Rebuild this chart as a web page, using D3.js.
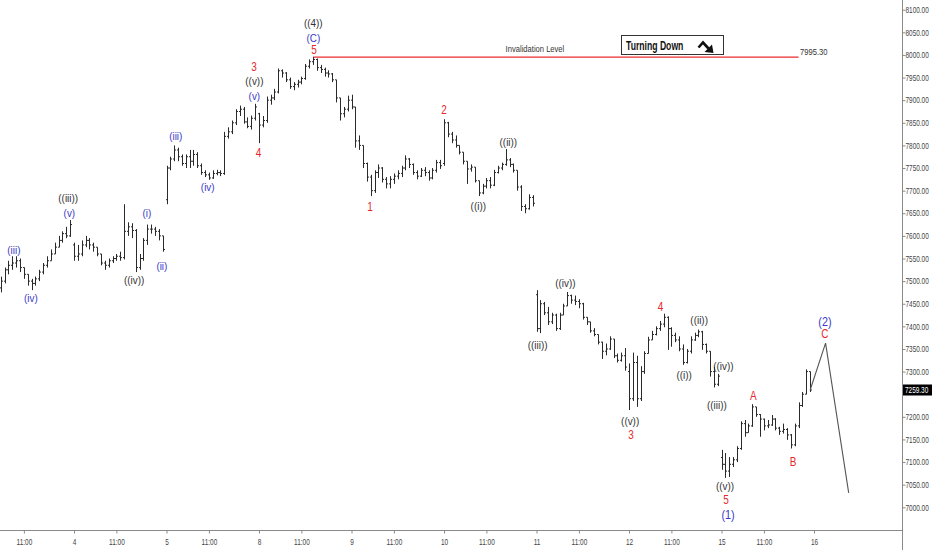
<!DOCTYPE html>
<html><head><meta charset="utf-8">
<script src="https://cdn.jsdelivr.net/npm/d3@7"></script>
<style>html,body{margin:0;padding:0;background:#fff;} svg{display:block;font-family:"Liberation Sans",Arial,sans-serif;}</style>
</head><body><svg id="c" width="932" height="550"></svg>
<script>
// ---------- DATA ----------
const tradingDays = ["3","4","5","8","9","10","11","12","15","16"];
const sessionStartHour = [5,0,0,0,0,0,0,0,0];   // first hourly bar of each drawn day
const barsPerDay = [19,24,24,24,24,24,24,24,24];
const timeTicks = ["11:00"];
const opens = [
 7485,7500,7525,7535,7540,7545,7530,7515,7500,7495,7505,7520,7535,7545,7560,7575,7590,7605,7600,
 7580,7555,7560,7580,7590,7580,7575,7560,7540,7535,7545,7550,7555,7552,7610,7620,7612,7530,7550,7590,7615,7615,7610,7600,
 7680,7750,7770,7790,7775,7760,7775,7765,7780,7755,7740,7735,7728,7738,7740,7738,7820,7830,7850,7875,7880,7852,7842,7860,
 7870,7845,7855,7900,7905,7918,7965,7960,7945,7930,7935,7940,7948,7975,7985,7990,7972,7968,7960,7958,7945,7905,7870,7880,
 7900,7885,7810,7800,7760,7730,7700,7740,7750,7725,7715,7725,7732,7738,7750,7770,7758,7740,7732,7745,7740,7728,7745,7762,
 7760,7850,7825,7812,7800,7785,7765,7748,7752,7722,7695,7710,7722,7712,7740,7750,7758,7768,7758,7745,7708,7665,7660,7685,
 7470,7395,7450,7430,7410,7425,7395,7425,7445,7468,7458,7455,7450,7420,7410,7390,7382,7365,7345,7350,7372,7335,7325,7335,
 7300,7240,7320,7240,7300,7340,7370,7382,7395,7405,7420,7395,7380,7370,7350,7320,7345,7370,7380,7388,7360,7345,7300,7272,
 7110,7095,7080,7095,7105,7130,7185,7165,7180,7222,7205,7195,7180,7182,7195,7175,7168,7172,7160,7138,7180,7225,7250,7300
];
const highs = [
 7510,7530,7545,7555,7555,7550,7530,7515,7505,7510,7525,7540,7555,7570,7585,7600,7610,7620,7635,
 7585,7580,7590,7600,7595,7585,7575,7560,7545,7550,7555,7560,7565,7670,7630,7628,7615,7560,7595,7625,7625,7620,7615,7600,
 7755,7775,7800,7795,7780,7780,7790,7790,7785,7760,7745,7740,7745,7746,7745,7830,7840,7855,7880,7888,7885,7862,7866,7892,
 7872,7865,7908,7912,7925,7970,7968,7962,7950,7940,7945,7952,7980,7990,7995.3,7992,7978,7972,7966,7960,7945,7905,7885,7910,
 7912,7885,7822,7800,7762,7735,7745,7758,7752,7730,7732,7738,7745,7755,7778,7772,7760,7745,7750,7752,7745,7750,7768,7768,
 7858,7852,7830,7822,7800,7785,7765,7758,7752,7722,7715,7728,7730,7746,7755,7762,7792,7772,7760,7745,7712,7670,7692,7690,
 7480,7458,7454,7443,7430,7428,7430,7450,7476,7470,7468,7460,7452,7420,7410,7396,7382,7366,7362,7378,7372,7340,7342,7352,
 7318,7342,7335,7312,7345,7377,7390,7400,7412,7428,7422,7398,7386,7378,7360,7350,7378,7386,7393,7390,7362,7345,7311,7295,
 7127,7120,7111,7111,7135,7190,7193,7185,7228,7222,7206,7196,7193,7204,7197,7178,7185,7175,7162,7185,7232,7255,7305,7300
];
const lows = [
 7475,7495,7515,7525,7530,7520,7505,7490,7480,7490,7500,7515,7530,7545,7560,7575,7585,7595,7598,
 7545,7545,7555,7575,7570,7565,7555,7535,7525,7530,7540,7545,7545,7548,7600,7595,7520,7525,7545,7580,7605,7600,7590,7565,
 7670,7745,7765,7765,7755,7750,7750,7755,7750,7735,7730,7724,7726,7734,7732,7735,7815,7825,7845,7865,7848,7838,7835,7855,
 7805,7840,7850,7890,7900,7915,7950,7940,7925,7922,7928,7935,7945,7970,7978,7965,7960,7952,7950,7940,7895,7855,7862,7875,
 7880,7795,7790,7750,7720,7688,7695,7728,7718,7705,7705,7715,7725,7730,7745,7750,7735,7725,7730,7732,7722,7725,7740,7748,
 7755,7818,7805,7795,7780,7758,7715,7742,7718,7688,7692,7705,7705,7710,7738,7745,7755,7752,7740,7700,7655,7650,7658,7665,
 7388,7385,7425,7403,7405,7390,7392,7425,7445,7450,7447,7440,7415,7403,7386,7378,7360,7328,7336,7348,7330,7320,7322,7302,
 7215,7235,7222,7235,7295,7340,7370,7380,7390,7398,7348,7355,7365,7345,7315,7318,7340,7368,7376,7348,7340,7289,7265,7268,
 7083,7065,7067,7089,7100,7127,7156,7165,7178,7200,7156,7170,7175,7180,7170,7160,7163,7149,7130,7135,7175,7222,7250,7255
];
const closes = [
 7500,7525,7535,7540,7545,7530,7515,7500,7495,7505,7520,7535,7545,7560,7575,7590,7605,7600,7625,
 7555,7560,7580,7590,7580,7575,7560,7540,7535,7545,7550,7555,7552,7610,7620,7612,7530,7550,7590,7615,7615,7610,7600,7570,
 7750,7770,7790,7775,7760,7775,7765,7780,7755,7740,7735,7728,7738,7740,7738,7820,7830,7850,7875,7880,7852,7842,7860,7885,
 7845,7855,7900,7905,7918,7965,7960,7945,7930,7935,7940,7948,7975,7985,7990,7972,7968,7960,7958,7945,7905,7870,7880,7900,
 7885,7810,7800,7760,7730,7700,7740,7750,7725,7715,7725,7732,7738,7750,7770,7758,7740,7732,7745,7740,7728,7745,7762,7755,
 7850,7825,7812,7800,7785,7765,7748,7752,7722,7695,7710,7722,7712,7740,7750,7758,7768,7758,7745,7708,7665,7660,7685,7672,
 7395,7450,7430,7410,7425,7395,7425,7445,7468,7458,7455,7450,7420,7410,7390,7382,7365,7345,7350,7372,7335,7325,7335,7310,
 7240,7320,7240,7300,7340,7370,7382,7395,7405,7420,7395,7380,7370,7350,7320,7345,7370,7380,7388,7360,7345,7300,7272,7290,
 7095,7080,7095,7105,7130,7185,7165,7180,7222,7205,7195,7180,7182,7195,7175,7168,7172,7160,7138,7180,7225,7250,7300,7259.3
];
const priceTicks = d3.range(7000, 8101, 50);
const lastPrice = 7259.30;
const invalidation = {value: 7995.30, from: ["8", 14], to: ["15", 20]};
const projection = [["15", 23, 7259.3], ["16", 3, 7363], ["16", 9, 7032]];
// wave labels: text, day, hour, price, group
const waveLabels = [
 ["(iii)","3",8.4,7569,"blue"], ["(iv)","3",12.8,7462,"blue"],
 ["((iii))","3",22.5,7683,"black"], ["(v)","3",22.8,7651,"blue"],
 ["((iv))","4",15.6,7502,"black"], ["(i)","4",18.9,7651,"blue"], ["(ii)","4",22.8,7533,"blue"],
 ["(iii)","5",2.4,7821,"blue"], ["(iv)","5",10.7,7707,"blue"],
 ["3","5",22.7,7974,"red"], ["((v))","5",22.8,7943,"black"], ["(v)","5",22.8,7909,"blue"],
 ["4","8",-0.1,7783,"red"],
 ["((4))","8",14.1,8071,"black"], ["(C)","8",14.1,8038,"blue"], ["5","8",14.3,8011,"red"],
 ["1","9",4.8,7664,"red"], ["2","10",0,7878,"red"],
 ["((i))","10",8.9,7666,"black"], ["((ii))","10",16.7,7808,"black"],
 ["((iii))","11",0.3,7359,"black"], ["((iv))","11",7.5,7495,"black"],
 ["((v))","12",0.3,7190,"black"], ["3","12",0.5,7161,"red"], ["4","12",8.2,7443,"red"],
 ["((i))","12",14.3,7292,"black"], ["((ii))","12",18.2,7414,"black"], ["((iii))","12",22.8,7226,"black"],
 ["((iv))","15",0.5,7311,"black"], ["((v))","15",0.9,7046,"black"], ["5","15",1.2,7016,"red"], ["(1)","15",1.7,6983,"blue"],
 ["A","15",8.25,7246,"red"], ["B","15",18.6,7102,"red"],
 ["(2)","16",2.85,7410,"blue"], ["C","16",2.85,7383,"red"]
];
const texts = {invalid: "Invalidation Level", turning: "Turning Down"};

// ---------- CHART ----------
const svg = d3.select("#c");
const x = d3.scaleLinear().domain([1, 9]).range([74, 814]);
const y = d3.scaleLinear().domain([7000, 8100]).range([507.3, 9.7]);
const di = d => tradingDays.indexOf(d);
const tx = (d, h) => x(di(d) + h / 24);
const colors = {blue: "#3a3ac8", black: "#333", red: "#e5282c"};
// horizontal condensing around the text's anchor point
function squeeze(sel, f) {
  sel.each(function () {
    const t = d3.select(this);
    const ax = +t.attr("x") || 0;
    const prev = t.attr("transform") || "";
    t.attr("transform", `${prev} translate(${ax},0) scale(${f},1) translate(${-ax},0)`);
  });
}

// build bars
const bars = [];
let k = 0;
barsPerDay.forEach((n, d) => {
  for (let j = 0; j < n; j++, k++) {
    bars.push({t: d + (sessionStartHour[d] + j) / 24, o: opens[k], h: highs[k], l: lows[k], c: closes[k]});
  }
});

// axes lines
const axisX = 902, axisY = 530;
svg.append("line").attr("x1", 0).attr("x2", axisX).attr("y1", axisY + 0.5).attr("y2", axisY + 0.5).attr("stroke", "#8a8a8a");
svg.append("line").attr("x1", axisX + 0.5).attr("x2", axisX + 0.5).attr("y1", 0).attr("y2", 550).attr("stroke", "#8a8a8a");

// x axis
const xTickVals = [];
for (let d = 0; d < tradingDays.length; d++) {
  if (d >= 1) xTickVals.push(d);
  if (d <= 8) xTickVals.push(d + 11 / 24);
}
const gx = svg.append("g").attr("transform", `translate(0,${axisY + 0.5})`)
  .call(d3.axisBottom(x).tickValues(xTickVals).tickSize(3).tickPadding(5)
    .tickFormat(v => Number.isInteger(v) ? tradingDays[v] : timeTicks[0]));
gx.select(".domain").remove();
gx.selectAll("line").attr("stroke", "#8a8a8a");
gx.selectAll("text").attr("font-size", 8.5).attr("fill", "#444").attr("font-family", "Liberation Sans, Arial");
squeeze(gx.selectAll("text"), 0.76);

// y axis
const yVals = priceTicks.filter(v => Math.abs(y(v) - y(lastPrice)) > 8);
const gy = svg.append("g").attr("transform", `translate(${axisX + 0.5},0)`)
  .call(d3.axisRight(y).tickValues(yVals).tickSize(3).tickPadding(0).tickFormat(d3.format(".2f")));
gy.select(".domain").remove();
gy.selectAll("line").attr("stroke", "#8a8a8a");
gy.selectAll("text").attr("font-size", 8.5).attr("fill", "#444").attr("font-family", "Liberation Sans, Arial");
squeeze(gy.selectAll("text"), 0.76);

// price tag
const pt = svg.append("g");
pt.append("rect").attr("x", axisX + 1).attr("y", y(lastPrice) - 5.5).attr("width", 29).attr("height", 11).attr("fill", "#000");
const ptt = pt.append("text").attr("x", axisX + 3).attr("y", y(lastPrice)).attr("dy", "0.35em")
  .attr("font-size", 8.5).attr("fill", "#fff").text(d3.format(".2f")(lastPrice));
squeeze(ptt, 0.76);

// invalidation line
const invY = y(invalidation.value);
svg.append("path")
  .attr("d", `M${tx(...invalidation.from)},${invY}H${tx(...invalidation.to)}`)
  .attr("stroke", "#ec2b2b").attr("stroke-width", 1.25).attr("fill", "none");
const inv = svg.append("text").attr("x", tx("10", 23.6)).attr("y", y(8013)).attr("dy", "0.35em")
  .attr("text-anchor", "middle").attr("font-size", 9.5).attr("fill", "#333").text(texts.invalid);
squeeze(inv, 0.8);
const invv = svg.append("text").attr("x", tx("15", 20.4)).attr("y", y(8007)).attr("dy", "0.35em")
  .attr("font-size", 9.5).attr("fill", "#333").text(d3.format(".2f")(invalidation.value));
squeeze(invv, 0.8);

// OHLC bars
svg.append("g").selectAll("path").data(bars).join("path")
  .attr("d", b => {
    const xx = Math.round(x(b.t)) + 0.5;
    return `M${xx},${y(b.h)}V${y(b.l)}M${xx - 1.5},${y(b.o)}H${xx}M${xx},${y(b.c)}H${xx + 1.5}`;
  })
  .attr("stroke", "#2a2a2a").attr("stroke-width", 1).attr("fill", "none");

// projection path
svg.append("path")
  .attr("d", d3.line().x(p => tx(p[0], p[1])).y(p => y(p[2]))(projection))
  .attr("stroke", "#555").attr("stroke-width", 1.1).attr("fill", "none");

// wave labels
const wl = svg.append("g").selectAll("text").data(waveLabels).join("text")
  .attr("x", d => tx(d[1], d[2])).attr("y", d => y(d[3])).attr("dy", "0.35em")
  .attr("text-anchor", "middle")
  .attr("font-size", d => d[4] === "red" ? 12.5 : (d[0] === "(1)" || d[0] === "(2)" ? 12 : 11))
  .attr("fill", d => colors[d[4]])
  .text(d => d[0]);
squeeze(wl.filter(d => d[4] === "red"), 0.8);
squeeze(wl.filter(d => d[4] !== "red"), 0.9);

// Turning Down box
const tb = svg.append("g");
tb.append("rect").attr("x", 621.5).attr("y", 35.5).attr("width", 102).attr("height", 19)
  .attr("fill", "#fff").attr("stroke", "#333").attr("stroke-width", 1);
const tdt = tb.append("text").attr("x", 626).attr("y", 50).attr("font-size", 13.5).attr("font-weight", "bold")
  .attr("fill", "#111").text(texts.turning);
squeeze(tdt, 0.64);
tb.append("path").attr("d", "M698.5,47.5L703,42.5L708.5,48.5").attr("stroke", "#111").attr("stroke-width", 2.6).attr("fill", "none");
tb.append("path").attr("d", "M713.5,53L704.5,52L712,44.5Z").attr("fill", "#111");
</script></body></html>
